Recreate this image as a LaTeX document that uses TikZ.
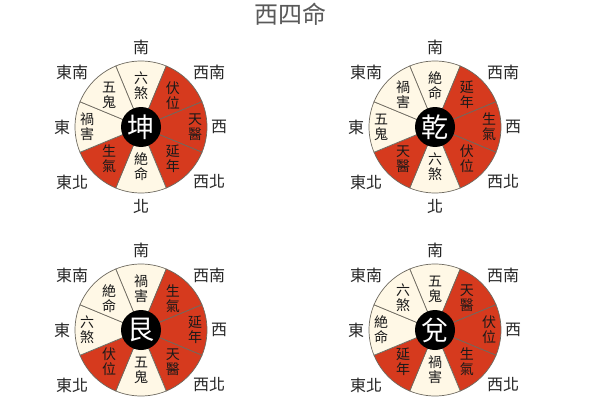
\documentclass[tikz,border=0pt]{standalone}
\usepackage{fontspec}
\newfontfamily\cjk{Noto Sans CJK TC}
\usetikzlibrary{positioning}
\definecolor{luck_red}{HTML}{D63A1E}
\definecolor{bad_cream}{HTML}{FFF8E6}
\definecolor{rim_gray}{HTML}{6E6A60}
\tikzstyle{sector} = [
    draw=rim_gray, 
    line width=0.7pt
]
\tikzstyle{gua_node} = [
    circle, 
    white, 
    fill=black, 
    inner sep=0pt, 
    minimum size=40pt, 
    font=\cjk\fontsize{27}{27}\selectfont
]
\tikzstyle{star_label} = [
    align=center, 
    inner sep=0pt, 
    text=black!90, 
    font=\cjk\fontsize{14}{15}\selectfont
]
\tikzstyle{dir_label} = [
    inner sep=0pt, 
    text=black!85, 
    font=\cjk\fontsize{16}{16}\selectfont
]
\tikzstyle{title_node} = [
    inner sep=0pt, 
    text=black!65, 
    font=\cjk\fontsize{24}{24}\selectfont
]

\begin{document}
\begin{tikzpicture}[x=1pt, y=1pt]
\useasboundingbox (0,0) rectangle (600,400);
\fill[white] (0,0) rectangle (600,400);
\clip (0,0) rectangle (600,400);

\node [title_node] (title) at (290,386) {西四命};

\coordinate (kun-c) at (141,273);
\coordinate (qian-c) at (435,273);
\coordinate (gen-c) at (141,70);
\coordinate (dui-c) at (435,70);

% kun
\foreach \ang/\rad/\txt/\col [count=\i] in {
    90/41/六\\煞/bad_cream, 45/45/伏\\位/luck_red, 0/54/天\\醫/luck_red, -45/45/延\\年/luck_red,
    -90/40/絶\\命/bad_cream, -135/45/生\\氣/luck_red, 180/54/禍\\害/bad_cream, 135/45/五\\鬼/bad_cream}{
    \filldraw [sector, fill=\col] (kun-c) -- ++(\ang-22.5:66pt)
        arc [start angle=\ang-22.5, end angle=\ang+22.5, radius=66pt] -- cycle;
    \node [star_label] (kun-s\i) at ([shift={(\ang:\rad pt)}]kun-c) {\txt};
}
\node [gua_node] (kun) at (kun-c) {坤};

% qian
\foreach \ang/\rad/\txt/\col [count=\i] in {
    90/41/絶\\命/bad_cream, 45/45/延\\年/luck_red, 0/54/生\\氣/luck_red, -45/45/伏\\位/luck_red,
    -90/40/六\\煞/bad_cream, -135/45/天\\醫/luck_red, 180/54/五\\鬼/bad_cream, 135/45/禍\\害/bad_cream}{
    \filldraw [sector, fill=\col] (qian-c) -- ++(\ang-22.5:66pt)
        arc [start angle=\ang-22.5, end angle=\ang+22.5, radius=66pt] -- cycle;
    \node [star_label] (qian-s\i) at ([shift={(\ang:\rad pt)}]qian-c) {\txt};
}
\node [gua_node] (qian) at (qian-c) {乾};

% gen
\foreach \ang/\rad/\txt/\col [count=\i] in {
    90/41/禍\\害/bad_cream, 45/45/生\\氣/luck_red, 0/54/延\\年/luck_red, -45/45/天\\醫/luck_red,
    -90/40/五\\鬼/bad_cream, -135/45/伏\\位/luck_red, 180/54/六\\煞/bad_cream, 135/45/絶\\命/bad_cream}{
    \filldraw [sector, fill=\col] (gen-c) -- ++(\ang-22.5:66pt)
        arc [start angle=\ang-22.5, end angle=\ang+22.5, radius=66pt] -- cycle;
    \node [star_label] (gen-s\i) at ([shift={(\ang:\rad pt)}]gen-c) {\txt};
}
\node [gua_node] (gen) at (gen-c) {艮};

% dui
\foreach \ang/\rad/\txt/\col [count=\i] in {
    90/41/五\\鬼/bad_cream, 45/45/天\\醫/luck_red, 0/54/伏\\位/luck_red, -45/45/生\\氣/luck_red,
    -90/40/禍\\害/bad_cream, -135/45/延\\年/luck_red, 180/54/絶\\命/bad_cream, 135/45/六\\煞/bad_cream}{
    \filldraw [sector, fill=\col] (dui-c) -- ++(\ang-22.5:66pt)
        arc [start angle=\ang-22.5, end angle=\ang+22.5, radius=66pt] -- cycle;
    \node [star_label] (dui-s\i) at ([shift={(\ang:\rad pt)}]dui-c) {\txt};
}
\node [gua_node] (dui) at (dui-c) {兌};

% directions round each wheel
\foreach \w in {kun, qian, gen, dui}{
    \foreach \dx/\dy/\dir [count=\j] in {
        0/80/南, 68/55/西南, 78/0/西, 68/-55/西北,
        0/-79/北, -69/-55/東北, -79/0/東, -69/55/東南}{
        \node [dir_label] (\w-d\j) at ([shift={(\dx,\dy)}]\w-c) {\dir};
    }
}
\end{tikzpicture}
\end{document}
